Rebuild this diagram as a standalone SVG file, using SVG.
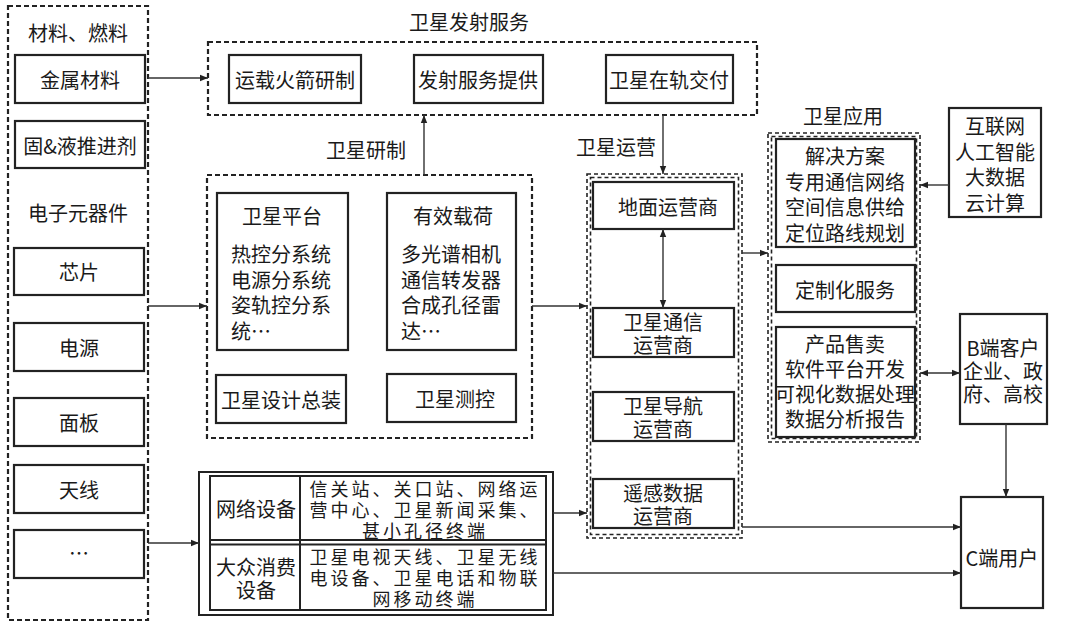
<svg xmlns="http://www.w3.org/2000/svg" width="1080" height="630" viewBox="0 0 1080 630">
<defs>
<style>
.dash{fill:none;stroke:#222;stroke-width:2.2;stroke-dasharray:5 3}
.dash2{fill:none;stroke:#222;stroke-width:1.6;stroke-dasharray:4 3}
.box{fill:#fff;stroke:#222;stroke-width:2.2}
.t{font-family:"Noto Sans CJK SC","Noto Sans",sans-serif;font-size:20px;fill:#1a1a1a;text-anchor:middle;dominant-baseline:central}
.tl{font-family:"Noto Sans CJK SC","Noto Sans",sans-serif;font-size:20px;fill:#1a1a1a;text-anchor:start;dominant-baseline:central}
.ts{font-family:"Noto Sans CJK SC","Noto Sans",sans-serif;font-size:18px;letter-spacing:3px;fill:#1a1a1a;text-anchor:middle;dominant-baseline:central}
.c{fill:none;stroke:#333;stroke-width:1.4}
</style>
<marker id="ah" viewBox="0 0 10 10" refX="10" refY="5" markerWidth="10" markerHeight="8" markerUnits="userSpaceOnUse" orient="auto-start-reverse">
<path d="M0,1 L10,5 L0,9 Z" fill="#222"/>
</marker>
</defs>
<rect width="1080" height="630" fill="#fff"/>

<g id="materials">
<rect class="dash" x="8" y="6" width="140" height="614"/>
<text class="t" x="78" y="32">材料、燃料</text>
<text class="t" x="78" y="212">电子元器件</text>
</g>
<g id="metal"><rect class="box" x="15" y="55" width="130" height="48"/><text class="t" x="80" y="79">金属材料</text></g>
<g id="propellant"><rect class="box" x="15" y="121" width="130" height="47"/><text class="t" x="80" y="145">固&amp;液推进剂</text></g>
<g id="chip"><rect class="box" x="14" y="248" width="130" height="47"/><text class="t" x="79" y="271">芯片</text></g>
<g id="power"><rect class="box" x="14" y="323" width="130" height="48"/><text class="t" x="79" y="347">电源</text></g>
<g id="panel"><rect class="box" x="14" y="398" width="130" height="48"/><text class="t" x="79" y="422">面板</text></g>
<g id="antenna"><rect class="box" x="14" y="465" width="130" height="48"/><text class="t" x="79" y="489">天线</text></g>
<g id="etc"><rect class="box" x="14" y="530" width="130" height="48"/><text class="t" x="79" y="552">…</text></g>

<g id="launch">
<text class="t" x="469" y="21">卫星发射服务</text>
<rect class="dash" x="208" y="42" width="549" height="73"/>
</g>
<g id="rocket"><rect class="box" x="229" y="55" width="132" height="48"/><text class="t" x="295" y="79">运载火箭研制</text></g>
<g id="launchsvc"><rect class="box" x="414" y="55" width="129" height="48"/><text class="t" x="478" y="79">发射服务提供</text></g>
<g id="delivery"><rect class="box" x="606" y="55" width="127" height="48"/><text class="t" x="669" y="79">卫星在轨交付</text></g>

<g id="dev">
<text class="t" x="366" y="149">卫星研制</text>
<rect class="dash" x="207" y="175" width="325" height="263"/>
</g>
<g id="platform"><rect class="box" x="217" y="193" width="131" height="157"/>
<text class="t" x="282" y="215">卫星平台</text>
<text class="tl" x="231" y="253">热控分系统<tspan x="231" dy="25.5">电源分系统</tspan><tspan x="231" dy="25.5">姿轨控分系</tspan><tspan x="231" dy="25.5">统…</tspan></text>
</g>
<g id="payload"><rect class="box" x="387" y="193" width="129" height="157"/>
<text class="t" x="453" y="215">有效载荷</text>
<text class="tl" x="401" y="253">多光谱相机<tspan x="401" dy="25.5">通信转发器</tspan><tspan x="401" dy="25.5">合成孔径雷</tspan><tspan x="401" dy="25.5">达…</tspan></text>
</g>
<g id="assembly"><rect class="box" x="216" y="375" width="130" height="48"/><text class="t" x="281" y="399">卫星设计总装</text></g>
<g id="ttc"><rect class="box" x="387" y="374" width="129" height="48"/><text class="t" x="455" y="398">卫星测控</text></g>

<g id="ops">
<text class="t" x="616" y="146">卫星运营</text>
<rect class="dash2" x="587" y="174" width="155" height="364"/>
<rect class="dash2" x="590.5" y="177.5" width="148" height="357"/>
</g>
<g id="ground"><rect class="box" x="593" y="182" width="141" height="47"/><text class="t" x="668" y="206">地面运营商</text></g>
<g id="comm"><rect class="box" x="593" y="308" width="141" height="49"/><text class="t" x="663" y="321">卫星通信<tspan x="663" dy="23">运营商</tspan></text></g>
<g id="nav"><rect class="box" x="593" y="392" width="141" height="49"/><text class="t" x="663" y="405">卫星导航<tspan x="663" dy="23">运营商</tspan></text></g>
<g id="remote"><rect class="box" x="593" y="479" width="141" height="49"/><text class="t" x="663" y="492">遥感数据<tspan x="663" dy="23">运营商</tspan></text></g>

<g id="app">
<text class="t" x="843" y="115">卫星应用</text>
<rect class="dash2" x="768" y="133" width="152" height="309"/>
<rect class="dash2" x="771.5" y="136.5" width="145" height="302"/>
</g>
<g id="solution"><rect class="box" x="776" y="139" width="139" height="108"/>
<text class="t" x="845" y="155">解决方案<tspan x="845" dy="25.5">专用通信网络</tspan><tspan x="845" dy="25.5">空间信息供给</tspan><tspan x="845" dy="25.5">定位路线规划</tspan></text>
</g>
<g id="custom"><rect class="box" x="776" y="265" width="139" height="47"/><text class="t" x="845" y="289">定制化服务</text></g>
<g id="product"><rect class="box" x="776" y="327" width="139" height="110"/>
<text class="t" x="845" y="343">产品售卖<tspan x="845" dy="25">软件平台开发</tspan><tspan x="845" dy="25">可视化数据处理</tspan><tspan x="845" dy="25">数据分析报告</tspan></text>
</g>

<g id="tech"><rect class="box" x="949" y="108" width="92" height="109"/>
<text class="t" x="995" y="125">互联网<tspan x="995" dy="25.5">人工智能</tspan><tspan x="995" dy="25.5">大数据</tspan><tspan x="995" dy="25.5">云计算</tspan></text>
</g>
<g id="bclient"><rect class="box" x="960" y="314" width="87" height="110"/>
<text class="t" x="1003" y="347">B端客户<tspan x="1003" dy="23">企业、政</tspan><tspan x="1003" dy="23">府、高校</tspan></text>
</g>
<g id="cuser"><rect class="box" x="961" y="497" width="82" height="111"/><text class="t" x="1002" y="557">C端用户</text></g>

<g id="equipment">
<rect x="199" y="472" width="354" height="143" fill="#fff" stroke="#222" stroke-width="2"/>
<rect x="210" y="476" width="336" height="134" fill="none" stroke="#222" stroke-width="2"/>
<line x1="210" y1="540" x2="546" y2="540" stroke="#222" stroke-width="2"/>
<line x1="210" y1="544.5" x2="546" y2="544.5" stroke="#222" stroke-width="2"/>
<line x1="300" y1="476" x2="300" y2="610" stroke="#222" stroke-width="2"/>
<text class="t" x="256" y="508">网络设备</text>
<text class="ts" x="425" y="488">信关站、关口站、网络运<tspan x="425" dy="21">营中心、卫星新闻采集、</tspan><tspan x="425" dy="21">甚小孔径终端</tspan></text>
<text class="t" x="256" y="566">大众消费<tspan x="256" dy="23">设备</tspan></text>
<text class="ts" x="425" y="556">卫星电视天线、卫星无线<tspan x="425" dy="21">电设备、卫星电话和物联</tspan><tspan x="425" dy="21">网移动终端</tspan></text>
</g>

<g id="connectors">
<line class="c" x1="148" y1="78" x2="208" y2="78" marker-end="url(#ah)"/>
<line class="c" x1="148" y1="306" x2="207" y2="306" marker-end="url(#ah)"/>
<line class="c" x1="148" y1="543" x2="199" y2="543" marker-end="url(#ah)"/>
<line class="c" x1="424" y1="175" x2="424" y2="115" marker-end="url(#ah)"/>
<line class="c" x1="663" y1="115" x2="663" y2="174" marker-end="url(#ah)"/>
<line class="c" x1="532" y1="306" x2="587" y2="306" marker-end="url(#ah)"/>
<line class="c" x1="553" y1="513" x2="587" y2="513" marker-end="url(#ah)"/>
<line class="c" x1="663" y1="229" x2="663" y2="308" marker-start="url(#ah)" marker-end="url(#ah)"/>
<line class="c" x1="742" y1="253" x2="768" y2="253" marker-end="url(#ah)"/>
<line class="c" x1="949" y1="185" x2="920" y2="185" marker-end="url(#ah)"/>
<line class="c" x1="920" y1="373" x2="960" y2="373" marker-start="url(#ah)" marker-end="url(#ah)"/>
<line class="c" x1="1006" y1="424" x2="1006" y2="497" marker-end="url(#ah)"/>
<line class="c" x1="742" y1="527" x2="961" y2="527" marker-end="url(#ah)"/>
<line class="c" x1="553" y1="573" x2="961" y2="573" marker-end="url(#ah)"/>
</g>
</svg>
